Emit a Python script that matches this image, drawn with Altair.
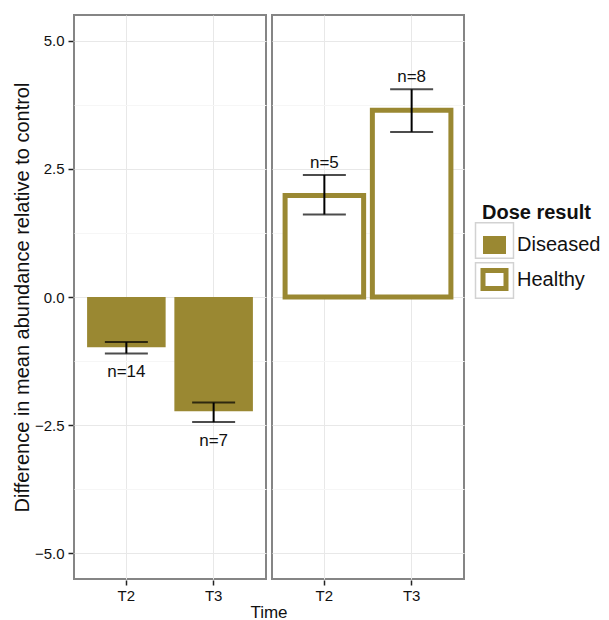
import altair as alt
import pandas as pd

# ---- data ----
dose = ["Diseased", "Diseased", "Healthy", "Healthy"]
time = ["T2", "T3", "T2", "T3"]
mean_diff = [-0.98, -2.23, 1.98, 3.64]
err_low = [-1.10, -2.44, 1.61, 3.22]
err_high = [-0.88, -2.06, 2.38, 4.05]
n_obs = [14, 7, 5, 8]

y_ticks = [-5, -3.75, -2.5, -1.25, 0, 1.25, 2.5, 3.75, 5]
dose_levels = ["Diseased", "Healthy"]

OLIVE = "#9a8832"
FONT = "Liberation Sans"

df = pd.DataFrame({
    "dose": dose, "time": time, "mean": mean_diff,
    "lo": err_low, "hi": err_high, "n": n_obs,
})
df["label"] = ["n=%d" % v for v in n_obs]

YTITLE = "Difference in mean abundance relative to control"
yscale = alt.Scale(domain=[-5.5, 5.5], nice=False, zero=False)
xscale = alt.Scale(paddingInner=0.1, paddingOuter=0.15)

major_test = "abs(datum.value) % 2.5 < 0.01"
yaxis = alt.Axis(
    values=y_ticks,
    labelExpr="abs(datum.value) % 2.5 < 0.01 ? format(datum.value, '.1f') : ''",
    gridColor={"condition": {"test": major_test, "value": "#e8e8e8"}, "value": "#f6f6f6"},
    tickOpacity={"condition": {"test": major_test, "value": 1}, "value": 0},
    domain=False,
    tickColor="#222222", tickWidth=1.5, tickSize=5,
    labelFontSize=15, labelColor="#111111", labelPadding=4,
    titleFontSize=20, titleFontWeight="normal", titleColor="#111111", titlePadding=2,
)
xaxis = alt.Axis(
    domain=False, grid=True, gridColor="#e8e8e8",
    tickColor="#222222", tickWidth=1.5, tickSize=5,
    labelFontSize=15, labelColor="#111111", labelPadding=3, labelAngle=0,
)


def X():
    return alt.X("time:N", title=None, scale=xscale, axis=xaxis)


def Y(field):
    return alt.Y(f"{field}:Q", title=YTITLE, scale=yscale, axis=yaxis)


bars = alt.Chart().mark_bar().transform_calculate(
    dose_key="datum.dose"
).encode(
    x=X(),
    y=Y("mean"),
    fill=alt.Fill(
        "dose:N",
        scale=alt.Scale(domain=dose_levels, range=[OLIVE, "white"]),
        legend=alt.Legend(
            title="Dose result", orient="none", legendX=408, legendY=188,
            symbolType="M-1.15,-0.9L1.15,-0.9L1.15,0.9L-1.15,0.9Z",
            symbolSize=400, symbolStrokeColor=OLIVE, symbolStrokeWidth=3,
            labelFontSize=20, titleFontSize=20, titleFontWeight="bold",
            labelFont=FONT, titleFont=FONT, labelColor="#111111", titleColor="#111111",
            rowPadding=5, labelOffset=10, titlePadding=12,
        ),
    ),
    stroke=alt.Stroke(
        "dose:N", scale=alt.Scale(domain=dose_levels, range=[OLIVE, OLIVE]), legend=None
    ),
    strokeWidth=alt.StrokeWidth(
        "dose:N", scale=alt.Scale(domain=dose_levels, range=[0, 5]), legend=None
    ),
    strokeDash=alt.StrokeDash(
        "dose_key:N", scale=alt.Scale(range=[[1, 0], [1, 0]]),
        legend=alt.Legend(
            title=None, orient="none", legendX=402, legendY=207,
            symbolType="M-1.07,-1L1.07,-1L1.07,1L-1.07,1Z",
            symbolSize=1260, symbolStrokeColor="#d2d2d2", symbolStrokeWidth=1.5,
            symbolFillColor="transparent", symbolDash=[1, 0],
            labelExpr="''", labelFontSize=20, rowPadding=-3,
        ),
    ),
)

err = alt.Chart().mark_rule(color="black", strokeWidth=2).encode(
    x=X(), y=Y("lo"), y2="hi:Q"
)
cap_lo = alt.Chart().mark_tick(color="black", thickness=2, size=43).encode(x=X(), y=Y("lo"))
cap_hi = alt.Chart().mark_tick(color="black", thickness=2, size=43).encode(x=X(), y=Y("hi"))

txt_neg = alt.Chart().mark_text(dy=19, fontSize=17, font=FONT, color="#111111").encode(
    x=X(), y=Y("lo"), text="label:N"
).transform_filter("datum.mean < 0")
txt_pos = alt.Chart().mark_text(dy=-12, fontSize=17, font=FONT, color="#111111").encode(
    x=X(), y=Y("hi"), text="label:N"
).transform_filter("datum.mean > 0")

chart = alt.layer(bars, err, cap_lo, cap_hi, txt_neg, txt_pos, data=df).properties(
    width=192, height=564
).facet(
    column=alt.Column(
        "dose:N",
        sort=dose_levels,
        header=alt.Header(
            title="Time", titleOrient="bottom", labels=False,
            titleFontSize=17, titleFont=FONT, titleFontWeight="normal",
            titleColor="#111111", titlePadding=-8,
        ),
    ),
    spacing=4,
).properties(
    padding={"left": 12, "top": 14, "right": 5, "bottom": 0}
).configure_view(
    stroke="#858585", strokeWidth=2
).configure_axis(
    labelFont=FONT, titleFont=FONT
)

chart.save("out.html", embed_options={"renderer": "svg", "actions": False})
